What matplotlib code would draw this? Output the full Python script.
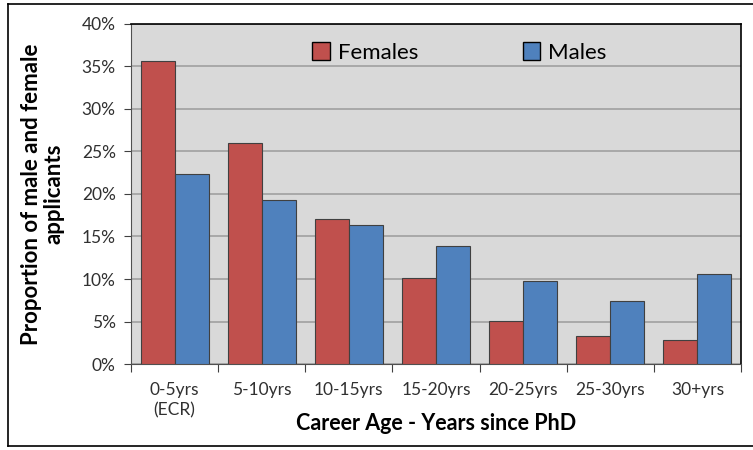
import matplotlib
matplotlib.use("Agg")
import matplotlib.pyplot as plt
import numpy as np
from matplotlib.lines import Line2D
from matplotlib.patches import Patch

categories = ["0-5yrs\n(ECR)", "5-10yrs", "10-15yrs", "15-20yrs", "20-25yrs", "25-30yrs", "30+yrs"]
females = [35.6, 26.0, 17.1, 10.1, 5.1, 3.3, 2.8]
males = [22.4, 19.3, 16.4, 13.9, 9.8, 7.4, 10.6]
yticks = [0, 5, 10, 15, 20, 25, 30, 35, 40]

plt.rcParams['font.family'] = ['Lato', 'DejaVu Sans']

fig = plt.figure(figsize=(7.53, 4.5), dpi=100)
ax = fig.add_axes([0.174, 0.191, 0.81, 0.756])
ax.set_facecolor('#d9d9d9')

x = np.arange(len(categories))
w = 0.39
ax.bar(x - w/2, females, w, color='#c0504d', edgecolor='#404040', linewidth=0.8, zorder=3, label='Females')
ax.bar(x + w/2, males, w, color='#4f81bd', edgecolor='#404040', linewidth=0.8, zorder=3, label='Males')

ax.set_xlim(-0.5, len(categories) - 0.5)
ax.set_ylim(0, 40)
ax.set_yticks(yticks)
ax.set_yticklabels([f"{v}%" for v in yticks], fontsize=12.5, color='#303030')
ax.yaxis.grid(True, color='#a0a0a0', linewidth=1.2, zorder=0)
ax.set_axisbelow(True)

ax.set_xticks(np.arange(len(categories) + 1) - 0.5)
ax.set_xticklabels([])
ax.set_xticks(x, minor=True)
ax.set_xticklabels(categories, minor=True, fontsize=12.5, color='#303030', linespacing=1.35)
ax.tick_params(axis='x', which='minor', length=0, pad=13)
ax.tick_params(axis='x', which='major', length=6, direction='out', color='#404040')
ax.tick_params(axis='y', length=5, direction='out', color='#404040', pad=6)

for s in ['top', 'right']:
    ax.spines[s].set_color('black')
    ax.spines[s].set_linewidth(1.2)
for s in ['left', 'bottom']:
    ax.spines[s].set_color('#505050')

ax.set_ylabel("Proportion of male and female\napplicants", fontsize=16, fontweight='bold', labelpad=12, linespacing=1.1)
fig.text((131 + 741) / 2 / 753, 1 - 423 / 450, "Career Age - Years since PhD", fontsize=15.5,
         fontweight='bold', ha='center', va='center')

handles = [Patch(facecolor='#c0504d', edgecolor='black'), Patch(facecolor='#4f81bd', edgecolor='black')]
leg = ax.legend(handles, ['Females', 'Males'], loc='upper left', bbox_to_anchor=(0.29, 0.96), ncol=2,
                frameon=False, fontsize=16, columnspacing=4.7, handlelength=0.8, handleheight=0.9,
                handletextpad=0.35, borderaxespad=0, borderpad=0.2)

# outer figure border
fig.add_artist(Line2D([8/753, 8/753], [1 - 4/450, 1 - 446/450], color='black', linewidth=1.2, transform=fig.transFigure))
fig.add_artist(Line2D([8/753, 1], [1 - 4/450, 1 - 4/450], color='black', linewidth=1.2, transform=fig.transFigure))
fig.add_artist(Line2D([8/753, 1], [1 - 446/450, 1 - 446/450], color='black', linewidth=1.2, transform=fig.transFigure))

fig.savefig("out.png", dpi=100)
